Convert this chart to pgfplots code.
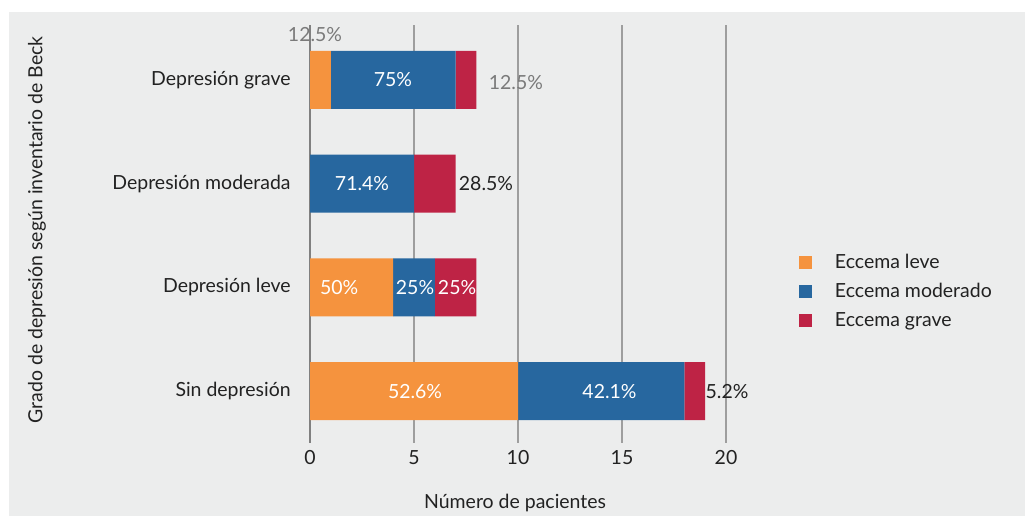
\documentclass[border=0pt]{standalone}
\usepackage{pgfplots}
\pgfplotsset{compat=1.18}
\usepackage{fontspec}
\setmainfont{Lato}
\definecolor{bg}{HTML}{ECEDED}
\definecolor{cleve}{HTML}{F5933E}
\definecolor{cmod}{HTML}{27679F}
\definecolor{cgrave}{HTML}{BE2345}
\definecolor{txt}{HTML}{222222}
\definecolor{gtxt}{HTML}{7A7A7A}
\tikzset{lbl/.style={font=\fontsize{14.6}{17}\selectfont}}
\begin{document}
\begin{tikzpicture}[x=1pt,y=1pt]
\fill[white] (0,0) rectangle (768.75,387);
\fill[bg] (6.75,0) rectangle (768.75,378);
\begin{axis}[
  at={(232.5pt,54.75pt)}, anchor=south west,
  scale only axis, width=312pt, height=313.5pt,
  xmin=0, xmax=20, ymin=-0.5, ymax=3.53,
  xbar stacked, bar width=43.5pt,
  clip=false,
  axis line style={draw=none},
  major tick length=0pt,
  xtick={5,10,15,20},
  extra x ticks={0},
  xmajorgrids,
  grid style={color=black!38, line width=1pt},
  extra x tick style={grid style={color=black!50, line width=1.8pt}},
  ytick={0,1,2,3},
  yticklabels={Sin depresión, Depresión leve, Depresión moderada, Depresión grave},
  /pgf/number format/assume math mode=true,
  tick label style={font=\fontsize{14.6}{17}\selectfont, text=txt},
  xticklabel style={yshift=-2pt},
  yticklabel style={xshift=-11pt},
  xlabel={Número de pacientes},
  ylabel={Grado de depresión según inventario de Beck},
  label style={font=\fontsize{14.6}{17}\selectfont, text=txt},
  xlabel style={at={(axis description cs:0.493,0)}, anchor=center, yshift=-45pt},
  ylabel style={at={(axis description cs:-0.656,0.51)}, anchor=center},
  legend style={at={(axis description cs:1.166,0.3625)}, anchor=west, draw=none, fill=none,
    font=\fontsize{14.6}{17}\selectfont, text=txt, row sep=5.5pt},
  legend cell align=left,
  legend image code/.code={\fill[#1] (0pt,-4.9pt) rectangle (9.75pt,4.9pt); \path (24.75pt,0pt);},
]
\addplot[fill=cleve, draw=none] coordinates {(10,0) (4,1) (0,2) (1,3)};
\addplot[fill=cmod, draw=none] coordinates {(8,0) (2,1) (5,2) (6,3)};
\addplot[fill=cgrave, draw=none] coordinates {(1,0) (2,1) (2,2) (1,3)};
\legend{Eccema leve, Eccema moderado, Eccema grave}
\coordinate (a1) at (axis cs:0.24,3.434);
\coordinate (a2) at (axis cs:3.99,3);
\coordinate (a3) at (axis cs:9.9,2.98);
\coordinate (a4) at (axis cs:2.5,2);
\coordinate (a5) at (axis cs:8.46,2);
\coordinate (a6) at (axis cs:1.4,1);
\coordinate (a7) at (axis cs:5.05,1);
\coordinate (a8) at (axis cs:7.07,1);
\coordinate (a9) at (axis cs:5.05,0);
\coordinate (a10) at (axis cs:14.4,0);
\coordinate (a11) at (axis cs:20.05,0);
\end{axis}
\node[lbl, text=gtxt] at (a1) {12.5\%};
\node[lbl, text=white] at (a2) {75\%};
\node[lbl, text=gtxt] at (a3) {12.5\%};
\node[lbl, text=white] at (a4) {71.4\%};
\node[lbl, text=txt] at (a5) {28.5\%};
\node[lbl, text=white] at (a6) {50\%};
\node[lbl, text=white] at (a7) {25\%};
\node[lbl, text=white] at (a8) {25\%};
\node[lbl, text=white] at (a9) {52.6\%};
\node[lbl, text=white] at (a10) {42.1\%};
\node[lbl, text=txt] at (a11) {5.2\%};
\end{tikzpicture}
\end{document}
